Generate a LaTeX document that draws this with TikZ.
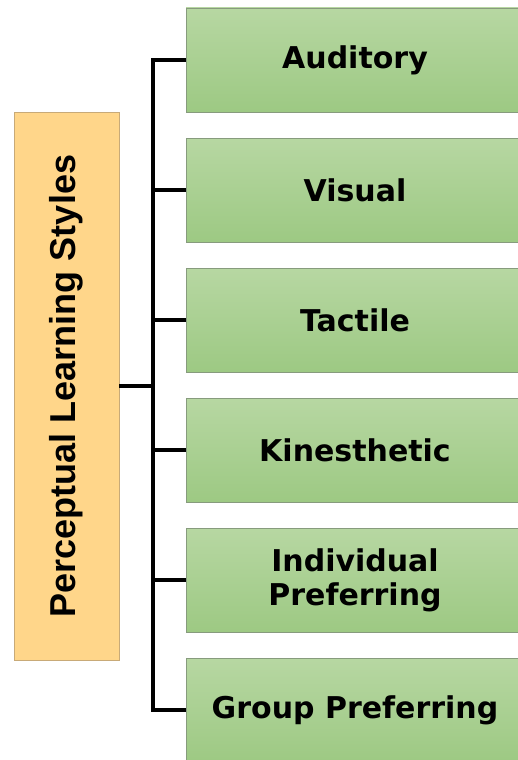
\documentclass[tikz,border=0pt]{standalone}
\usepackage{fontspec}
\setmainfont{DejaVu Sans}
\newfontfamily\rootfont{Liberation Sans}
\usepackage{tikz}

\definecolor{rootfill}{RGB}{255,214,138}
\definecolor{rootline}{RGB}{200,170,120}
\definecolor{leaftop}{RGB}{183,215,162}
\definecolor{leafbot}{RGB}{157,201,131}
\definecolor{leafline}{RGB}{135,155,125}

\tikzset{
  root/.style={draw=rootline,line width=0.8pt,fill=rootfill,rotate=90,
    minimum width=548pt,minimum height=105pt,inner sep=0pt,
    font=\rootfont\bfseries\fontsize{36}{40}\selectfont},
  leaf/.style={draw=leafline,line width=0.8pt,top color=leaftop,bottom color=leafbot,
    minimum width=338pt,minimum height=104pt,inner sep=0pt,align=center,
    font=\bfseries\fontsize{30}{34}\selectfont},
  conn/.style={line width=4.5pt}
}

\begin{document}
\begin{tikzpicture}[x=1pt,y=-1pt,node distance=130pt]
      \useasboundingbox (0,0) rectangle (517,760);
      \node[root] (lps) at (66.5,386) {Perceptual Learning Styles};

      \node[leaf] (aud) at (355,60)  {Auditory};
      \node[leaf] (vis) [below of=aud] {Visual};
      \node[leaf] (tac) [below of=vis] {Tactile};
      \node[leaf] (kin) [below of=tac] {Kinesthetic};
      \node[leaf] (ind) [below of=kin] {Individual\\Preferring};
      \node[leaf] (grp) [below of=ind] {Group Preferring};

      \coordinate (trunk) at (153,386);
      \draw[conn] (lps.south) -- (trunk);
      \draw[conn] (aud.west) -| (trunk) |- (grp.west);
      \draw[conn] (vis.west) -- (vis.west -| trunk);
      \draw[conn] (tac.west) -- (tac.west -| trunk);
      \draw[conn] (kin.west) -- (kin.west -| trunk);
      \draw[conn] (ind.west) -- (ind.west -| trunk);
\end{tikzpicture}
\end{document}
